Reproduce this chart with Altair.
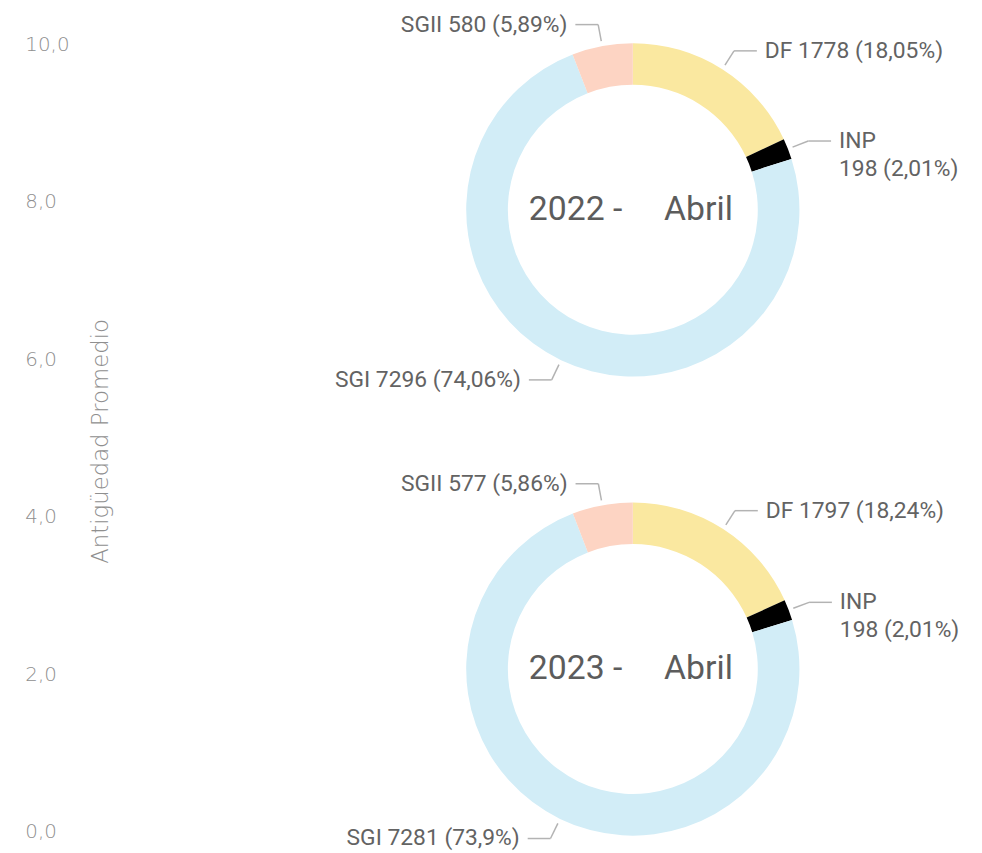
import altair as alt
import pandas as pd

# ---- data ----
years = ["2022", "2022", "2022", "2022", "2023", "2023", "2023", "2023"]
categories = ["DF", "INP", "SGI", "SGII", "DF", "INP", "SGI", "SGII"]
values = [1778, 198, 7296, 580, 1797, 198, 7281, 577]
pct_labels = ["18,05%", "2,01%", "74,06%", "5,89%", "18,24%", "2,01%", "73,9%", "5,86%"]
month = "Abril"
center_years = ["2022", "2023"]
axis_ticks = [0, 2, 4, 6, 8, 10]
axis_title = "Antigüedad Promedio"

cat_domain = ["DF", "INP", "SGI", "SGII"]
cat_colors = ["#FAE8A0", "#000000", "#D2EDF7", "#FDD4C3"]

labels = []
for c, v, p in zip(categories, values, pct_labels):
    sep = "\n" if c == "INP" else " "
    labels.append(f"{c}{sep}{v} ({p})")

df = pd.DataFrame({
    "year": years,
    "category": categories,
    "value": values,
    "label": labels,
    "order": [cat_domain.index(c) for c in categories],
})
NB = "\u00a0"
df_center = pd.DataFrame({
    "year": center_years,
    "text": [f"{y} -{NB * 5}{month}" for y in center_years],
})

# ---- layout ----
W, H = 842, 794
CX = 518
CY_EXPR = "datum.year == '2022' ? 167 : 630"
R_OUT, R_IN = 168, 126
LABEL_FONT = "Roboto"
LABEL_SIZE = 23
LABEL_COLOR = "#636363"
LEADER = "#b3b3b3"
AXIS_FONT = "DejaVu Sans"
AXIS_COLOR = "#8f8f8f"

base = (
    alt.Chart(df)
    .transform_joinaggregate(total="sum(value)", groupby=["year"])
    .transform_window(cum="sum(value)", sort=[alt.SortField("order")],
                      groupby=["year"], frame=[None, 0])
    .transform_calculate(
        t0="2*PI*(datum.cum - datum.value)/datum.total",
        t1="2*PI*datum.cum/datum.total",
    )
    .transform_calculate(
        mid="(datum.t0 + datum.t1)/2",
        cx=f"{CX}",
        cy=CY_EXPR,
    )
    .transform_calculate(
        sx="datum.cx + 173*sin(datum.mid)",
        sy="datum.cy - 173*cos(datum.mid)",
        ex="datum.cx + 190*sin(datum.mid)",
        ey="datum.cy - 190*cos(datum.mid)",
        side="sin(datum.mid) >= 0 ? 1 : -1",
    )
    .transform_calculate(
        hx="datum.ex + datum.side*23",
    )
    .transform_calculate(
        tx="datum.hx + datum.side*8",
    )
)

arcs = base.mark_arc(outerRadius=R_OUT, innerRadius=R_IN).encode(
    theta=alt.Theta("t0:Q", scale=None),
    theta2="t1:Q",
    x=alt.X("cx:Q", scale=None, axis=None),
    y=alt.Y("cy:Q", scale=None, axis=None),
    color=alt.Color("category:N", scale=alt.Scale(domain=cat_domain, range=cat_colors), legend=None),
)

lead1 = base.mark_rule(color=LEADER, strokeWidth=1.5).encode(
    x=alt.X("sx:Q", scale=None, axis=None),
    y=alt.Y("sy:Q", scale=None, axis=None),
    x2="ex:Q",
    y2="ey:Q",
)
lead2 = base.mark_rule(color=LEADER, strokeWidth=1.5).encode(
    x=alt.X("ex:Q", scale=None, axis=None),
    y=alt.Y("ey:Q", scale=None, axis=None),
    x2="hx:Q",
    y2="ey:Q",
)

txt_right = base.transform_filter("datum.side > 0").mark_text(
    align="left", baseline="middle", font=LABEL_FONT, fontSize=LABEL_SIZE,
    color=LABEL_COLOR, lineBreak="\n", lineHeight=28,
).encode(
    x=alt.X("tx:Q", scale=None, axis=None),
    y=alt.Y("ey:Q", scale=None, axis=None),
    text="label:N",
)
txt_left = base.transform_filter("datum.side < 0").mark_text(
    align="right", baseline="middle", font=LABEL_FONT, fontSize=LABEL_SIZE,
    color=LABEL_COLOR, lineBreak="\n", lineHeight=28,
).encode(
    x=alt.X("tx:Q", scale=None, axis=None),
    y=alt.Y("ey:Q", scale=None, axis=None),
    text="label:N",
)

center = alt.Chart(df_center).transform_calculate(
    cx=f"{CX - 2}", cy=CY_EXPR
).mark_text(
    align="center", baseline="middle", font=LABEL_FONT, fontSize=34, color="#5c5c5c"
).encode(
    x=alt.X("cx:Q", scale=None, axis=None),
    y=alt.Y("cy:Q", scale=None, axis=None),
    text="text:N",
)

axis_layer = alt.Chart(pd.DataFrame({"v": axis_ticks})).mark_point(opacity=0).encode(
    y=alt.Y(
        "v:Q",
        scale=alt.Scale(domain=[0, 10], nice=False, zero=True),
        axis=alt.Axis(
            values=axis_ticks,
            title=axis_title,
            labelExpr="replace(format(datum.value, '.1f'), '.', ',')",
            labelAlign="left",
            labelBaseline="middle",
            labelPadding=95,
            labelFont=AXIS_FONT,
            labelFontSize=20,
            labelFontWeight=200,
            labelColor=AXIS_COLOR,
            ticks=False,
            tickSize=0,
            domain=False,
            grid=False,
            titleFont=AXIS_FONT,
            titleFontSize=23,
            titleFontWeight=200,
            titleColor=AXIS_COLOR,
            titleX=-19,
            titleY=H / 2 + 3,
            titleAngle=-90,
            titleAlign="center",
            titleBaseline="middle",
        ),
    )
)

chart = (
    alt.layer(axis_layer, arcs, lead1, lead2, txt_right, txt_left, center)
    .resolve_scale(x="independent", y="independent")
    .properties(
        width=W,
        height=H,
        autosize=alt.AutoSizeParams(type="none"),
        padding={"left": 112, "top": 33, "right": 20, "bottom": 16},
        background="white",
    )
    .configure_view(stroke=None)
)

chart.save("out.html", embed_options={"renderer": "svg", "actions": False})
